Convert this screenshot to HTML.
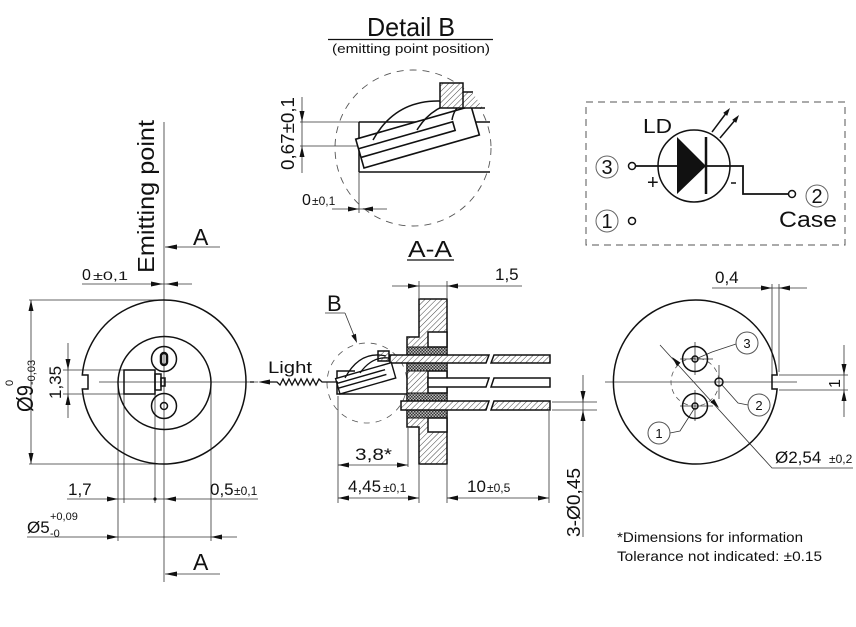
<!DOCTYPE html>
<html><head><meta charset="utf-8">
<style>
html,body{margin:0;padding:0;background:#fff}
svg{display:block}
text{font-family:"Liberation Sans",Arial,sans-serif;fill:#111}
</style></head>
<body>
<svg width="856" height="627" viewBox="0 0 856 627" xmlns="http://www.w3.org/2000/svg">
<defs>
<pattern id="h" patternUnits="userSpaceOnUse" width="4" height="4" patternTransform="rotate(45)">
<rect width="4" height="4" fill="#fff"/><line x1="0" y1="0" x2="0" y2="4" stroke="#444" stroke-width="1"/>
</pattern>
<pattern id="g" patternUnits="userSpaceOnUse" width="3" height="3">
<rect width="3" height="3" fill="#bbb"/><rect width="1.5" height="1.5" fill="#333"/><rect x="1.5" y="1.5" width="1.5" height="1.5" fill="#333"/>
</pattern>
</defs>
<rect width="856" height="627" fill="#fff"/>

<!-- ================= LEFT VIEW ================= -->
<g stroke="#333" stroke-width="0.8" fill="none">
<line x1="164" y1="122" x2="164" y2="582"/>
<line x1="99" y1="382" x2="258" y2="382"/>
<line x1="165" y1="247" x2="220" y2="247"/>
<line x1="82" y1="284" x2="192" y2="284"/>
<line x1="29" y1="300" x2="164" y2="300"/>
<line x1="29" y1="464" x2="164" y2="464"/>
<line x1="31" y1="300" x2="31" y2="464"/>
<line x1="63" y1="370" x2="124" y2="370"/>
<line x1="63" y1="394" x2="124" y2="394"/>
<line x1="68" y1="343" x2="68" y2="418"/>
<line x1="118" y1="384" x2="118" y2="541"/>
<line x1="124" y1="394" x2="124" y2="503"/>
<line x1="155" y1="390" x2="155" y2="503"/>
<line x1="211" y1="384" x2="211" y2="541"/>
<line x1="67" y1="499" x2="258" y2="499"/>
<line x1="27" y1="537" x2="237" y2="537"/>
<line x1="165" y1="574" x2="220" y2="574"/>
</g>
<g fill="#111">
<polygon points="165,247 177,244.5 177,249.5"/>
<polygon points="163,284 151,281.5 151,286.5"/>
<polygon points="166,284 178,281.5 178,286.5"/>
<polygon points="31,300 28.5,311 33.5,311"/>
<polygon points="31,464 28.5,453 33.5,453"/>
<polygon points="68,370 65.5,359 70.5,359"/>
<polygon points="68,394 65.5,405 70.5,405"/>
<polygon points="118,499 107,496.5 107,501.5"/>
<circle cx="155" cy="499" r="1.6"/>
<polygon points="165,499 176,496.5 176,501.5"/>
<polygon points="118,537 107,534.5 107,539.5"/>
<polygon points="211,537 222,534.5 222,539.5"/>
<polygon points="165,574 177,571.5 177,576.5"/>
</g>
<g fill="none" stroke="#111" stroke-width="1.5">
<path d="M82.3,375 A82,82 0 1 1 82.3,389 L88,389 L88,375 Z"/>
<circle cx="164.5" cy="383" r="46.5"/>
<circle cx="164" cy="359" r="12.5"/>
<circle cx="164" cy="406" r="12.5"/>
<rect x="161" y="353" width="6" height="12" rx="3" stroke-width="2.5"/>
<circle cx="164" cy="406" r="3.5"/>
<rect x="124" y="370" width="31" height="24"/>
<rect x="155" y="374" width="6" height="16"/>
<rect x="161" y="378" width="4" height="8"/>
</g>
<text transform="translate(154,273) rotate(-90)" font-size="23" textLength="153" lengthAdjust="spacingAndGlyphs">Emitting point</text>
<text x="193" y="245" font-size="23">A</text>
<text x="82" y="280" font-size="16">0</text>
<text x="93" y="280" font-size="12" textLength="35" lengthAdjust="spacingAndGlyphs">±0,1</text>
<text transform="translate(33,412) rotate(-90)" font-size="23" textLength="27" lengthAdjust="spacingAndGlyphs">Ø9</text>
<text transform="translate(13,386) rotate(-90)" font-size="11">0</text>
<text transform="translate(35,385) rotate(-90)" font-size="11">-0,03</text>
<text transform="translate(61,399) rotate(-90)" font-size="17">1,35</text>
<text x="68" y="495" font-size="17">1,7</text>
<text x="210" y="495" font-size="17">0,5</text>
<text x="234" y="495" font-size="12">±0,1</text>
<text x="27" y="533" font-size="17">Ø5</text>
<text x="50" y="520" font-size="11">+0,09</text>
<text x="50" y="537" font-size="11">-0</text>
<text x="193" y="570" font-size="23">A</text>

<!-- ================= DETAIL B ================= -->
<text x="367" y="36" font-size="26" textLength="88" lengthAdjust="spacingAndGlyphs">Detail B</text>
<line x1="328" y1="39.5" x2="493" y2="39.5" stroke="#111" stroke-width="1.2"/>
<text x="332" y="53" font-size="13" textLength="158" lengthAdjust="spacingAndGlyphs">(emitting point position)</text>
<circle cx="413" cy="148" r="78" fill="none" stroke="#555" stroke-width="0.9" stroke-dasharray="7,6"/>
<g stroke="#333" stroke-width="0.8" fill="none">
<line x1="300" y1="122" x2="359" y2="122"/>
<line x1="300" y1="146" x2="358" y2="146"/>
<line x1="302" y1="97" x2="302" y2="173"/>
<line x1="359" y1="172" x2="359" y2="213"/>
<line x1="332" y1="209" x2="387" y2="209"/>
</g>
<g fill="#111">
<polygon points="302,122 299.5,111 304.5,111"/>
<polygon points="302,146 299.5,157 304.5,157"/>
<polygon points="359,209 348,206.5 348,211.5"/>
<polygon points="362,209 373,206.5 373,211.5"/>
</g>
<g fill="none" stroke="#111" stroke-width="1.5">
<line x1="359" y1="122" x2="490" y2="122"/>
<line x1="359" y1="172" x2="490" y2="172"/>
<line x1="359" y1="122" x2="359" y2="172"/>
</g>
<g transform="translate(364,168) rotate(-16)" stroke="#111" stroke-width="1.6">
<rect x="0" y="-30" width="120" height="30" fill="#fff"/>
<path d="M0,-20 H98 V-11 H0" fill="none"/>
</g>
<path d="M463,92 H472 L483,108 H463 Z" fill="url(#h)" stroke="none"/>
<g fill="none" stroke="#111" stroke-width="1.5">
<line x1="463" y1="92" x2="473" y2="92"/>
<line x1="463" y1="108" x2="485" y2="108"/>
<path d="M373,140 Q395,100 440,101"/>
<path d="M417,130 Q432,105 462,101"/>
<path d="M452,120 Q454,108 463,103"/>
</g>
<rect x="440" y="83" width="23" height="25" fill="url(#h)" stroke="#111" stroke-width="1.5"/>
<text transform="translate(294,170) rotate(-90)" font-size="18" textLength="73" lengthAdjust="spacingAndGlyphs">0,67±0,1</text>
<text x="302" y="205" font-size="16">0</text>
<text x="312" y="205" font-size="12">±0,1</text>

<!-- ================= SCHEMATIC ================= -->
<rect x="586" y="102" width="259" height="143" fill="none" stroke="#555" stroke-width="1" stroke-dasharray="7,5"/>
<circle cx="694" cy="166" r="36" fill="none" stroke="#111" stroke-width="1.5"/>
<polyline points="636,166 743,166 743,194 788,194" fill="none" stroke="#111" stroke-width="1.8"/>
<polygon points="677,137 677,194 706,166" fill="#111"/>
<line x1="706" y1="137" x2="706" y2="194" stroke="#111" stroke-width="2.5"/>
<g fill="none" stroke="#111" stroke-width="1.5">
<circle cx="632" cy="166" r="3.5"/>
<circle cx="792" cy="194" r="3.5"/>
<circle cx="632" cy="221" r="3.5"/>
<line x1="712" y1="132" x2="727" y2="112"/>
<line x1="720" y1="138" x2="736" y2="119"/>
<line x1="731" y1="183" x2="736" y2="183"/>
</g>
<g fill="#111">
<polygon points="730,108 727.2,115.9 723.2,112.9"/>
<polygon points="739,115 736.2,122.9 732.2,119.9"/>
</g>
<g fill="none" stroke="#666" stroke-width="1">
<circle cx="607" cy="167" r="11"/>
<circle cx="607" cy="221" r="11"/>
<circle cx="817" cy="196" r="11"/>
</g>
<text x="607" y="174" font-size="20" text-anchor="middle">3</text>
<text x="607" y="228" font-size="20" text-anchor="middle">1</text>
<text x="817" y="203" font-size="20" text-anchor="middle">2</text>
<text x="647" y="189" font-size="20">+</text>
<text x="643" y="133" font-size="20" textLength="29" lengthAdjust="spacingAndGlyphs">LD</text>
<text x="779" y="227" font-size="22" textLength="58" lengthAdjust="spacingAndGlyphs">Case</text>

<!-- ================= SECTION A-A ================= -->
<text x="408" y="257" font-size="23" textLength="44" lengthAdjust="spacingAndGlyphs">A-A</text>
<line x1="407" y1="260" x2="454" y2="260" stroke="#111" stroke-width="1.2"/>
<text x="495" y="280" font-size="17">1,5</text>
<g stroke="#333" stroke-width="0.8" fill="none">
<line x1="392" y1="286" x2="522" y2="286"/>
<line x1="419" y1="281" x2="419" y2="298"/>
<line x1="447" y1="281" x2="447" y2="298"/>
<circle cx="367" cy="383" r="40" stroke="#555" stroke-dasharray="6,6"/>
<line x1="338" y1="396" x2="338" y2="503"/>
<line x1="408" y1="428" x2="408" y2="467"/>
<line x1="419" y1="465" x2="419" y2="503"/>
<line x1="447" y1="465" x2="447" y2="503"/>
<line x1="549" y1="411" x2="549" y2="503"/>
<line x1="338" y1="465" x2="408" y2="465"/>
<line x1="338" y1="498" x2="419" y2="498"/>
<line x1="447" y1="498" x2="549" y2="498"/>
<line x1="583" y1="375" x2="583" y2="537"/>
<line x1="552" y1="402" x2="597" y2="402"/>
<line x1="552" y1="410" x2="597" y2="410"/>
<line x1="325" y1="313" x2="345" y2="313"/>
<line x1="345" y1="313" x2="355" y2="338"/>
</g>
<g fill="#111">
<polygon points="419,286 408,283.5 408,288.5"/>
<polygon points="447,286 458,283.5 458,288.5"/>
<polygon points="338,465 349,462.5 349,467.5"/>
<polygon points="408,465 397,462.5 397,467.5"/>
<polygon points="338,498 349,495.5 349,500.5"/>
<polygon points="419,498 408,495.5 408,500.5"/>
<polygon points="447,498 458,495.5 458,500.5"/>
<polygon points="549,498 538,495.5 538,500.5"/>
<polygon points="583,402 580.5,391 585.5,391"/>
<polygon points="583,410 580.5,421 585.5,421"/>
<polygon points="357,343 355.9,333.8 351.3,335.6"/>
<polygon points="258,382 270,379.5 270,384.5"/>
</g>
<!-- header -->
<path d="M419,299 H447 V464 H419 V427 H407 V337 H419 Z" fill="url(#h)" stroke="#111" stroke-width="1.5"/>
<g stroke="#111" stroke-width="1">
<rect x="407" y="347" width="40" height="8" fill="url(#g)"/>
<rect x="407" y="363" width="40" height="8" fill="url(#g)"/>
<rect x="407" y="393" width="40" height="8" fill="url(#g)"/>
<rect x="407" y="410" width="40" height="8" fill="url(#g)"/>
</g>
<g stroke="#111" stroke-width="1.5" fill="#fff">
<rect x="428" y="332" width="19" height="15"/>
<rect x="428" y="418" width="19" height="14"/>
<rect x="428" y="371" width="19" height="22"/>
</g>
<!-- pins -->
<g stroke="#111" stroke-width="1.5">
<path d="M390,355 H489 L486,363 H390 Z" fill="url(#h)"/>
<path d="M494,355 H550 V363 H491 Z" fill="url(#h)"/>
<path d="M428,378 H489 L486,387 H428 Z" fill="#fff"/>
<path d="M494,378 H550 V387 H491 Z" fill="#fff"/>
<path d="M401,401 H489 L486,410 H401 Z" fill="url(#h)"/>
<path d="M494,401 H550 V410 H491 Z" fill="url(#h)"/>
</g>
<!-- chip -->
<polyline points="355,371 337,371 337,394 407,394" fill="none" stroke="#111" stroke-width="1.5"/>
<g transform="translate(340,394) rotate(-16)" stroke="#111" stroke-width="1.4">
<rect x="0" y="-16" width="58" height="16" fill="#fff"/>
<path d="M0,-6 H50 M0,-11 H50" fill="none"/>
</g>
<rect x="378" y="351" width="11" height="10" fill="url(#h)" stroke="#111" stroke-width="1.5"/>
<g fill="none" stroke="#111" stroke-width="1.3">
<path d="M345,378 Q360,350 386,356"/>
<path d="M360,373 Q372,356 389,358"/>
<polyline points="338,382 322,382 319,379 316,385 313,379 310,385 307,379 304,385 301,379 298,385 295,379 292,385 289,379 286,385 283,379 280,385 277,382 268,382"/>
<line x1="250" y1="382" x2="254" y2="382"/>
</g>
<text x="268" y="373" font-size="17" textLength="44" lengthAdjust="spacingAndGlyphs">Light</text>
<text x="327" y="311" font-size="22">B</text>
<text x="355" y="460" font-size="17" textLength="37" lengthAdjust="spacingAndGlyphs">3,8*</text>
<text x="348" y="492" font-size="17">4,45</text>
<text x="383" y="492" font-size="12">±0,1</text>
<text x="467" y="492" font-size="17">10</text>
<text x="487" y="492" font-size="12">±0,5</text>
<text transform="translate(580,537) rotate(-90)" font-size="18" textLength="69" lengthAdjust="spacingAndGlyphs">3-Ø0,45</text>

<!-- ================= RIGHT VIEW ================= -->
<g stroke="#333" stroke-width="0.8" fill="none">
<line x1="605" y1="382" x2="797" y2="382"/>
<line x1="695" y1="342" x2="695" y2="375"/>
<line x1="680" y1="359" x2="713" y2="359"/>
<line x1="695" y1="390" x2="695" y2="421"/>
<line x1="680" y1="406" x2="713" y2="406"/>
<line x1="719" y1="365" x2="719" y2="399"/>
<circle cx="695" cy="382" r="24" stroke="#555" stroke-dasharray="5,4"/>
<polyline points="660,345 772,468 853,468"/>
<line x1="712" y1="288" x2="807" y2="288"/>
<line x1="772" y1="284" x2="772" y2="375"/>
<line x1="779" y1="284" x2="779" y2="372"/>
<line x1="844" y1="345" x2="844" y2="417"/>
<line x1="779" y1="375" x2="848" y2="375"/>
<line x1="779" y1="390" x2="848" y2="390"/>
<polyline points="736,344 712,352 698,358"/>
<polyline points="748,405 738,403 722,385"/>
<polyline points="670,433 680,431 694,409"/>
</g>
<g fill="#111">
<polygon points="672,357 680.6,362.7 676.9,366.1"/>
<polygon points="719,408 710.4,402.3 714.1,398.9"/>
<polygon points="772,288 761,285.5 761,290.5"/>
<polygon points="779,288 790,285.5 790,290.5"/>
<polygon points="844,375 841.5,364 846.5,364"/>
<polygon points="844,390 841.5,401 846.5,401"/>
</g>
<g fill="none" stroke="#111" stroke-width="1.5">
<path d="M777.1,389 A82,82 0 1 1 777.1,375 L772,375 L772,389 Z"/>
<circle cx="695" cy="359" r="12.5"/>
<circle cx="695" cy="359" r="3"/>
<circle cx="695" cy="406" r="12.5"/>
<circle cx="695" cy="406" r="3"/>
<circle cx="719" cy="382" r="4"/>
</g>
<g fill="#fff" stroke="#555" stroke-width="1">
<circle cx="747" cy="343" r="11"/>
<circle cx="759" cy="405" r="11"/>
<circle cx="659" cy="433" r="11"/>
</g>
<text x="747" y="348" font-size="13" text-anchor="middle">3</text>
<text x="759" y="410" font-size="13" text-anchor="middle">2</text>
<text x="659" y="438" font-size="13" text-anchor="middle">1</text>
<text x="715" y="283" font-size="17">0,4</text>
<text transform="translate(840,388) rotate(-90)" font-size="16">1</text>
<text x="775" y="463" font-size="17">Ø2,54</text>
<text x="829" y="463" font-size="12">±0,2</text>

<!-- ================= NOTES ================= -->
<text x="617" y="542" font-size="14" textLength="186" lengthAdjust="spacingAndGlyphs">*Dimensions for information</text>
<text x="617" y="561" font-size="14" textLength="205" lengthAdjust="spacingAndGlyphs">Tolerance not indicated: ±0.15</text>
</svg>
</body></html>
